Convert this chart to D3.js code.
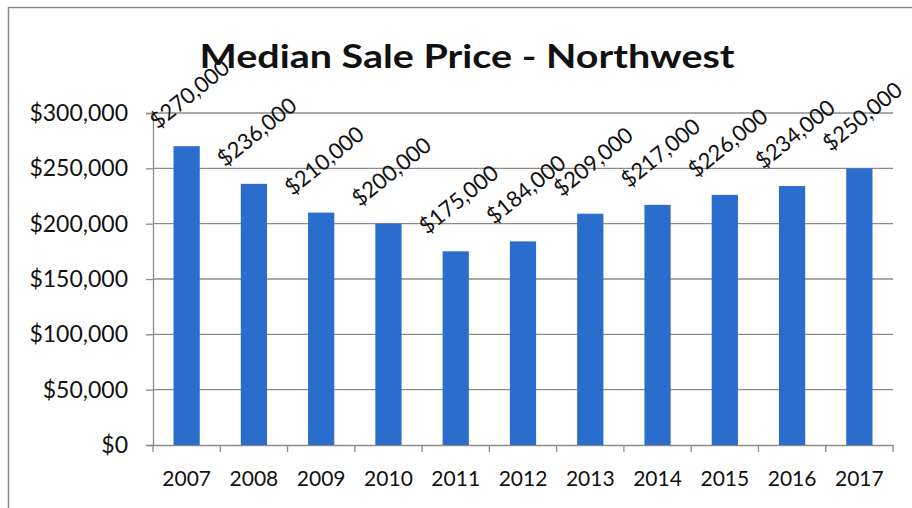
<!DOCTYPE html>
<html><head><meta charset="utf-8">
<script src="https://cdn.jsdelivr.net/npm/d3@7"></script>
<style>body{margin:0;background:#fff}svg{display:block}text{font-family:Lato,"Open Sans",sans-serif;fill:#111}</style>
</head><body><svg id="c" width="912" height="508"></svg>
<script>
const title = "Median Sale Price - Northwest";
const years = ["2007","2008","2009","2010","2011","2012","2013","2014","2015","2016","2017"];
const prices = [270000,236000,210000,200000,175000,184000,209000,217000,226000,234000,250000];
const yTicks = [0,50000,100000,150000,200000,250000,300000];

const svg = d3.select("#c");
const m = {l:153, r:893, t:113, b:445};
svg.append("rect").attr("x",8.5).attr("y",7.5).attr("width",950).attr("height",550)
  .attr("fill","none").attr("stroke","#8a8a8a").attr("stroke-width",1.5);

const x = d3.scaleBand().domain(years).range([m.l,m.r]).paddingInner(0.61).paddingOuter(0.305);
const y = d3.scaleLinear().domain([0,300000]).range([m.b,m.t]);
const fmt = v => "$" + d3.format(",")(v);

// gridlines
svg.append("g").selectAll("line").data(yTicks.filter(d=>d>0)).join("line")
  .attr("x1",m.l).attr("x2",m.r).attr("y1",d=>y(d)).attr("y2",d=>y(d))
  .attr("stroke","#8c8c8c").attr("stroke-width",1.3);

// y axis
const ya = svg.append("g").attr("transform",`translate(${m.l},0)`)
  .call(d3.axisLeft(y).tickValues(yTicks).tickFormat(fmt).tickSize(7).tickPadding(18));
ya.select(".domain").attr("stroke","#8c8c8c").attr("stroke-width",1.3);
ya.selectAll(".tick line").attr("stroke","#8c8c8c").attr("stroke-width",1.3);
ya.selectAll("text").style("font-size","23px").attr("fill","#111");

// x axis
const xa = svg.append("g").attr("transform",`translate(0,${m.b})`)
  .call(d3.axisBottom(x).tickSize(0).tickPadding(26));
xa.select(".domain").attr("stroke","#8c8c8c").attr("stroke-width",1.3);
xa.selectAll("text").style("font-size","21px").attr("fill","#111");
const step = x.step();
xa.selectAll("line.bt").data(d3.range(years.length+1)).join("line").attr("class","bt")
  .attr("x1",i=>m.l+i*step).attr("x2",i=>m.l+i*step).attr("y1",0).attr("y2",7)
  .attr("stroke","#8c8c8c").attr("stroke-width",1.3);

// bars
svg.append("g").selectAll("rect").data(prices).join("rect")
  .attr("x",(d,i)=>x(years[i])).attr("width",x.bandwidth())
  .attr("y",d=>y(d)).attr("height",d=>y(0)-y(d)).attr("fill","#2A6DCD");

// data labels
svg.append("g").selectAll("text").data(prices).join("text")
  .attr("transform",(d,i)=>`translate(${x(years[i])+x.bandwidth()/2+3},${y(d)-52}) rotate(-39)`)
  .attr("text-anchor","middle").attr("dy","0.35em")
  .style("font-size","22px").text(fmt);

// title
svg.append("text").attr("x",467).attr("y",68).attr("text-anchor","middle")
  .attr("textLength",535).attr("lengthAdjust","spacingAndGlyphs")
  .style("font-size","32px").style("font-weight","bold").text(title);
</script></body></html>
